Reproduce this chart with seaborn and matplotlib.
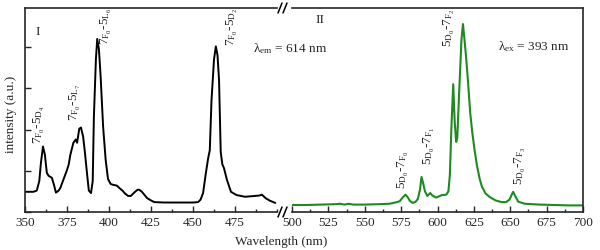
import matplotlib
matplotlib.use("Agg")
import matplotlib.pyplot as plt
from matplotlib.lines import Line2D
from matplotlib.ticker import MultipleLocator
import pandas as pd
import seaborn as sns

# %%
# excitation spectrum (panel I), emission monitored at 614 nm
exc_nm = [350, 355, 357, 358.5, 359.5, 360.7, 361.8, 363, 364, 366, 367.3, 368.4,
          370, 371, 373, 375, 376, 377, 378.8, 380.2, 381, 382.3, 383.3, 384.6,
          385.7, 387, 388, 389.3, 390.3, 391, 392.2, 393, 394, 395, 396.5, 398,
          399.4, 401, 402.4, 404.7, 406.5, 408, 409.5, 411.3, 413, 415.5, 417,
          418, 419.6, 421, 422.6, 425, 427, 433, 442, 450, 453, 454.5, 456,
          457.5, 459, 460, 461, 462.5, 463.6, 464.6, 465.5, 466.5, 467.5, 468.4,
          470.2, 472.6, 476, 481, 487, 489.5, 491, 493.4, 496, 499]
exc_int = [0.49, 0.49, 0.52, 0.75, 1.2, 1.59, 1.4, 0.95, 0.88, 0.83, 0.65, 0.47,
           0.52, 0.58, 0.8, 1.02, 1.15, 1.39, 1.68, 1.76, 1.68, 2.02, 2.05, 1.83,
           1.43, 0.9, 0.52, 0.46, 0.75, 2.3, 3.7, 4.2, 3.95, 3.3, 2.07, 1.27,
           0.8, 0.68, 0.66, 0.64, 0.57, 0.52, 0.45, 0.39, 0.39, 0.49, 0.54,
           0.54, 0.49, 0.42, 0.34, 0.28, 0.24, 0.23, 0.23, 0.23, 0.24, 0.3, 0.46,
           0.9, 1.3, 1.5, 2.7, 3.7, 4.02, 3.8, 3.2, 1.45, 1.15, 1.07,
           0.78, 0.49, 0.41, 0.37, 0.39, 0.4, 0.42, 0.33, 0.27, 0.22]

# emission spectrum (panel II), excitation at 393 nm
em_nm = [500, 510, 520, 530, 533, 536, 539, 542, 550, 560, 567, 571, 574, 576,
         578, 579.5, 581, 583, 585, 586.5, 588, 589, 590, 591.4, 593, 595,
         596.5, 599, 601, 603, 606, 607.5, 608.5, 609.5, 610.8, 611.8, 612.8,
         613.6, 615, 616.5, 617.5, 618.5, 619.6, 621, 622.5, 624, 625.5, 627,
         629, 630.5, 633, 636, 640, 644, 647, 649.5, 651, 652, 653.5, 655.5,
         660, 670, 680, 690, 700]
em_int = [0.17, 0.17, 0.18, 0.19, 0.2, 0.18, 0.2, 0.18, 0.18, 0.19, 0.2, 0.23,
          0.26, 0.35, 0.42, 0.36, 0.27, 0.22, 0.25, 0.32, 0.55, 0.85, 0.72, 0.5,
          0.39, 0.46, 0.4, 0.35, 0.38, 0.41, 0.42, 0.5, 0.9, 2.0, 3.1, 2.2, 1.7,
          1.8, 3.0, 4.2, 4.56, 4.2, 3.78, 3.15, 2.4, 1.9, 1.5, 1.15,
          0.8, 0.62, 0.45, 0.36, 0.28, 0.24, 0.24, 0.3, 0.42, 0.49, 0.38, 0.25,
          0.2, 0.18, 0.17, 0.16, 0.16]

exc_labels = [r"$7_{\mathrm{F}_0}$-$5_{\mathrm{D}_4}$", r"$7_{\mathrm{F}_0}$-$5_{\mathrm{L}_7}$",
              r"$7_{\mathrm{F}_0}$-$5_{\mathrm{L}_6}$", r"$7_{\mathrm{F}_0}$-$5_{\mathrm{D}_2}$"]
em_labels = [r"$5_{\mathrm{D}_0}$-$7_{\mathrm{F}_0}$", r"$5_{\mathrm{D}_0}$-$7_{\mathrm{F}_1}$",
             r"$5_{\mathrm{D}_0}$-$7_{\mathrm{F}_2}$", r"$5_{\mathrm{D}_0}$-$7_{\mathrm{F}_3}$"]

exc = pd.DataFrame({"nm": exc_nm, "intensity": exc_int})
em = pd.DataFrame({"nm": em_nm, "intensity": em_int})

# %%
sns.set_style("ticks")
plt.rcParams["font.family"] = ["Liberation Serif", "DejaVu Serif"]
plt.rcParams["mathtext.fontset"] = "custom"
plt.rcParams["mathtext.rm"] = "Liberation Serif"
plt.rcParams["mathtext.it"] = "Liberation Serif:italic"
plt.rcParams["mathtext.default"] = "rm"
fontsize = 9.5

W, H = 600, 250
fig = plt.figure(figsize=(6, 2.5), dpi=100)
top, bottom = 8, 212
ax1 = fig.add_axes([25 / W, (H - bottom) / H, (277 - 25) / W, (bottom - top) / H])
ax2 = fig.add_axes([292 / W, (H - bottom) / H, (583 - 292) / W, (bottom - top) / H])

sns.lineplot(data=exc, x="nm", y="intensity", ax=ax1, color="black", lw=1.4)
sns.lineplot(data=em, x="nm", y="intensity", ax=ax2, color="#1f8a1f", lw=1.5)

for ax in (ax1, ax2):
    ax.set_ylim(0, 4.95)
    ax.set_xlabel("")
    ax.set_ylabel("")
    ax.xaxis.set_minor_locator(MultipleLocator(12.5))
    ax.tick_params(axis="both", which="major", direction="in", length=4,
                   labelsize=fontsize, width=1)
    ax.tick_params(axis="both", which="minor", direction="in", length=2, width=1)
    for sp in ax.spines.values():
        sp.set_linewidth(1.2)

ax1.set_xlim(350, 500)
ax1.set_xticks([350, 375, 400, 425, 450, 475])
ax1.set_yticks([0, 1, 2, 3, 4])
ax1.set_yticklabels([])
ax1.spines["right"].set_visible(False)

ax2.set_xlim(500, 700)
ax2.set_xticks([500, 525, 550, 575, 600, 625, 650, 675, 700])
ax2.set_yticks([])
ax2.spines["left"].set_visible(False)

# peak assignments
exc_pos = [(358.5, 1.65), (380.3, 2.2), (398.3, 4.05), (473.2, 4.02)]
for (x, y), lab in zip(exc_pos, exc_labels):
    ax1.text(x, y, lab, rotation=90, ha="center", va="bottom", fontsize=9.5)
em_pos = [(576.3, 0.55), (594.8, 1.15), (607.9, 4.0), (656.7, 0.66)]
for (x, y), lab in zip(em_pos, em_labels):
    ax2.text(x, y, lab, rotation=90, ha="center", va="bottom", fontsize=9.5)

ax1.text(0.05, 0.88, "I", transform=ax1.transAxes, ha="center", va="center", fontsize=fontsize)
ax2.text(0.095, 0.94, "II", transform=ax2.transAxes, ha="center", va="center", fontsize=fontsize)

fig.text(253 / W, 1 - 49 / H, "λ$_{\\mathrm{em}}$ = 614 nm", ha="left", va="center", fontsize=fontsize)
fig.text(498 / W, 1 - 47 / H, "λ$_{\\mathrm{ex}}$ = 393 nm", ha="left", va="center", fontsize=fontsize)
fig.text(11 / W, 1 - 114 / H, "intensity (a.u.)", rotation=90, ha="center", va="center", fontsize=fontsize)
fig.text(281 / W, 1 - 242 / H, "Wavelength (nm)", ha="center", va="center", fontsize=fontsize)

# axis break marks
for ypx in (top, bottom):
    for xpx in (280, 285):
        fig.add_artist(Line2D([(xpx - 2) / W, (xpx + 2) / W],
                              [1 - (ypx + 5) / H, 1 - (ypx - 5) / H],
                              color="black", lw=1.1, transform=fig.transFigure))

plt.savefig("out.png", dpi=100)
plt.close()
